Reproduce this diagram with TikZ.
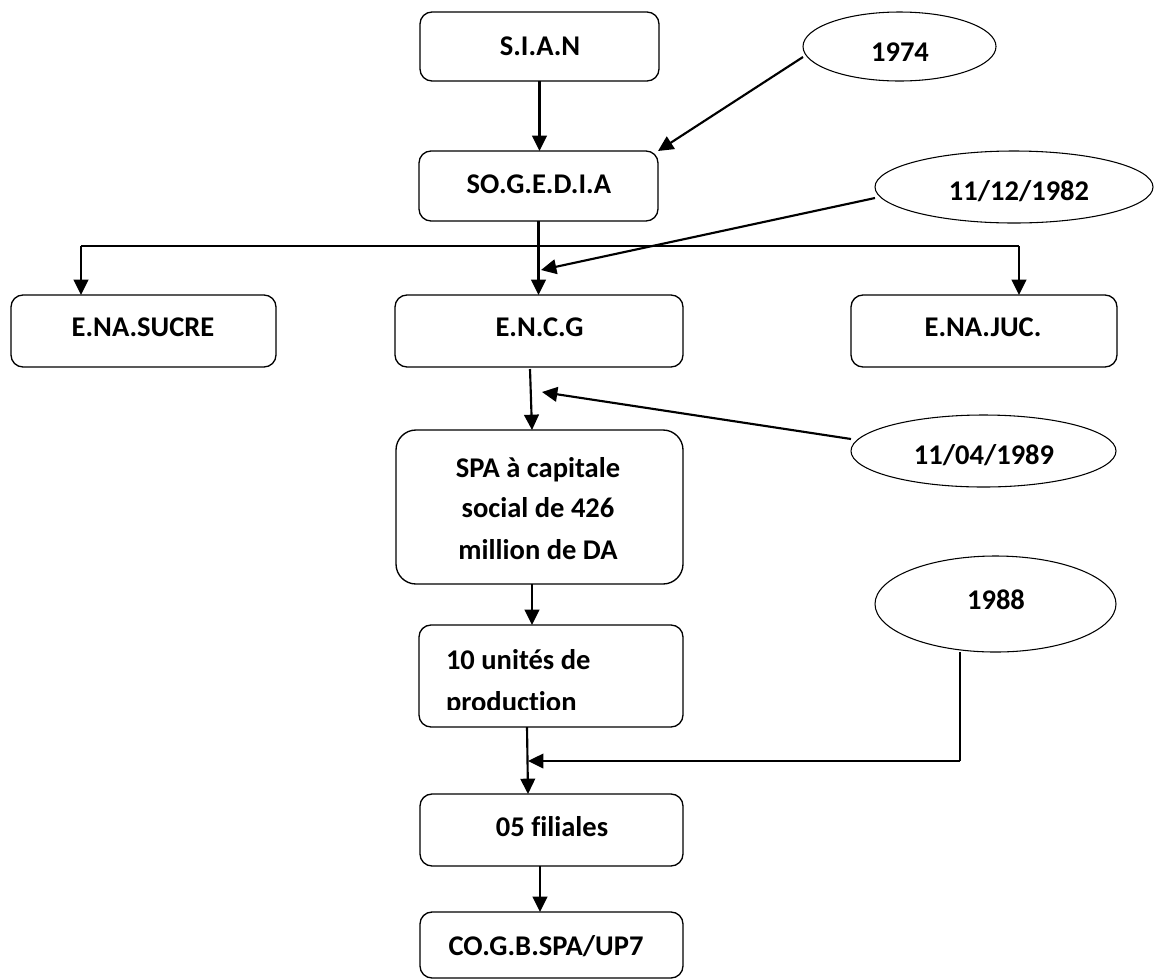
\documentclass[tikz,border=0pt]{standalone}
\usepackage{fontspec}
\setmainfont{Carlito}[RawFeature={-liga;-clig}]
\usetikzlibrary{arrows.meta,shapes.geometric,calc}
\begin{document}
\begin{tikzpicture}[x=0.75pt,y=-0.75pt,
  sz/.style 2 args={minimum width=#1*0.75pt,minimum height=#2*0.75pt},
  box/.style={draw,line width=1pt,rounded corners=9pt,inner sep=0pt,outer sep=0pt},
  oval/.style={draw,ellipse,line width=0.8pt,inner sep=0pt,outer sep=0pt},
  lbl/.style={inner sep=0pt,outer sep=0pt,font=\fontsize{21.4}{30.75}\selectfont\bfseries},
  conn/.style={line width=1.6pt},
  thin/.style={line width=1.1pt},
  tip/.style={-{Triangle[length=11.5pt,width=11pt]}},
  arr/.style={conn,tip},
]
\useasboundingbox (0,0) rectangle (1155,979);

% boxes
\node[box,sz={239}{69}] (sian) at (539.5,46.5) {};
\node[box,sz={239}{70}] (sog) at (538.5,186) {};
\node[box,sz={265}{72}] (enas) at (143.5,331) {};
\node[box,sz={288}{72}] (encg) at (539,331) {};
\node[box,sz={266}{72}] (enaj) at (984,331) {};
\node[box,sz={287}{154},rounded corners=15pt] (spa) at (539.5,507) {};
\node[box,sz={264}{102}] (u10) at (551,676) {};
\node[box,sz={263}{72}] (f05) at (551.5,830) {};
\node[box,sz={263}{66}] (cogb) at (551.5,945) {};

% ellipses
\node[oval,sz={193}{69}] (e74) at (899.5,46.5) {};
\node[oval,sz={278}{72}] (e82) at (1014,187) {};
\node[oval,sz={265}{72}] (e89) at (983.5,451) {};
\node[oval,sz={241}{96}] (e88) at (995.5,604) {};

% texts
\node[lbl] (tsian) at (540,46) {S.I.A.N};
\node[lbl] (tsog) at (539,184) {SO.G.E.D.I.A};
\node[lbl] (tenas) at (143,327.5) {E.NA.SUCRE};
\node[lbl] (tencg) at (539.5,327.5) {E.N.C.G};
\node[lbl] (tenaj) at (983,327) {E.NA.JUC.};
\node[lbl,anchor=base] (tspa1) at (538,477) {SPA à capitale};
\node[lbl,anchor=base] (tspa2) at (538,517) {social de 426};
\node[lbl,anchor=base] (tspa3) at (538,559) {million de DA};
\begin{scope}
  \clip (419,625) rectangle (683,709);
  \node[lbl,anchor=base west] (tu10a) at (446,669.5) {10 unités de};
  \node[lbl,anchor=base west] (tu10b) at (446,711.5) {production};
\end{scope}
\node[lbl] (tf05) at (552,827) {05 filiales};
\node[lbl] (tcogb) at (546,946) {CO.G.B.SPA/UP7};
\node[lbl] (t74) at (900,52) {1974};
\node[lbl] (t82) at (1019,191) {11/12/1982};
\node[lbl] (t89) at (984,455.5) {11/04/1989};
\node[lbl] (t88) at (996,600) {1988};

% coordinates
\coordinate (barL) at (81,246);
\coordinate (barR) at (1019,246);
\coordinate (a74) at (803,57);
\coordinate (a82) at (875,198);
\coordinate (t82tip) at (541,270);
\coordinate (a89) at (851,439);
\coordinate (t89tip) at (542,392);
\coordinate (c88a) at (960,652);
\coordinate (c88b) at (960,761);
\coordinate (t88tip) at (528,761);

% connectors
\draw[arr] (sian.south) -- (sian.south |- sog.north);
\draw[arr] (a74) -- (sog.north east);
\draw[arr] (sog.south) -- (sog.south |- encg.north);
\draw[conn] (barL) -- (barR);
\draw[arr] (barL) -- (barL |- enas.north);
\draw[arr] (barR) -- (barR |- enaj.north);
\draw[arr] (a82) -- (t82tip);
\draw[arr] ($(encg.south)+(-9,2)$) -- ($(spa.north)+(-7.5,0)$);
\draw[arr] (a89) -- (t89tip);
\draw[arr] ($(spa.south)+(-7.5,0)$) -- ($(u10.north)+(-19,0)$);
\draw[arr] ($(u10.south)+(-24,0)$) -- ($(f05.north)+(-23.5,0)$);
\draw[thin] (c88a) -- (c88b);
\draw[thin,tip] (c88b) -- (t88tip);
\draw[arr] ($(f05.south)+(-11.5,0)$) -- ($(cogb.north)+(-11.5,0)$);
\end{tikzpicture}
\end{document}
